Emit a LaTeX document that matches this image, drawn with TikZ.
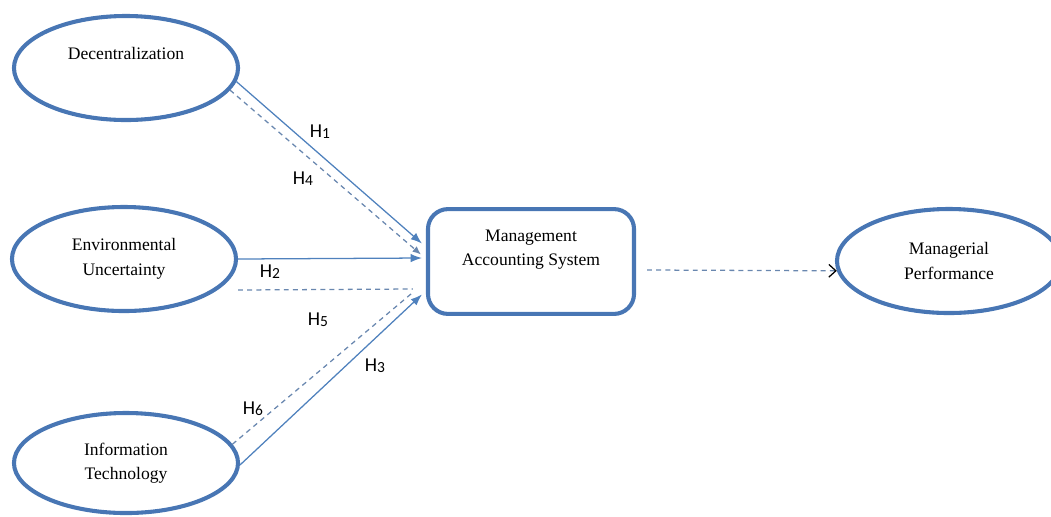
\documentclass[tikz,border=0pt]{standalone}
\usepackage{fontspec}
\setmainfont{Liberation Serif}
\newfontfamily\hfont{Carlito}
\usetikzlibrary{shapes.geometric,arrows.meta,calc}
\definecolor{oval}{RGB}{72,118,180}
\definecolor{link}{RGB}{79,129,189}
\definecolor{dlink}{RGB}{105,135,175}
\newcommand{\hyp}[1]{{\hfont\fontsize{14}{14}\selectfont H\raisebox{-0.1ex}{\fontsize{11}{11}\selectfont #1}}}
\begin{document}
\begin{tikzpicture}[x=0.025cm,y=-0.025cm,font=\fontsize{12.5}{17.5}\selectfont,
  var/.style={ellipse,draw=oval,line width=2.9pt,minimum width=5.6cm,minimum height=2.6cm,align=center},
  sysbox/.style={rectangle,rounded corners=0.5cm,draw=oval,line width=2.9pt,minimum width=5.15cm,minimum height=2.62cm},
  full/.style={draw=link,line width=0.9pt,-{Latex[length=8pt,width=6pt]}},
  dashlink/.style={draw=dlink,line width=0.9pt,dash pattern=on 3.5pt off 3pt}]
\useasboundingbox (0,0) rectangle (1051,516);
% variables
\node[var,label={[yshift=0.375cm]center:Decentralization}] (dec) at (126,68) {};
\node[var] (env) at (124,259) {Environmental\\Uncertainty};
\node[var,minimum height=2.5cm] (inf) at (126,463) {Information\\Technology};
\node[sysbox,label={[yshift=0.3cm,align=center]center:Management\\Accounting System}] (mas) at (531,261.5) {};
\node[var] (mp) at (949,261) {Managerial\\Performance};
% free ends
\coordinate (h5s) at ($(env.east)+(0,31)$);
\coordinate (mass) at ($(mas.east)+(11,8.5)$);
% paths
\draw[full] (dec.-7) -- ($(mas.west)+(-4,-18)$);
\draw[dashlink,-{Latex[length=6pt,width=5pt]}] (dec.-12) -- ($(mas.west)+(-5,-7)$);
\draw[full] (env.east) -- ($(mas.west)+(-4,-3.5)$);
\draw[dashlink] (h5s) -- ($(mas.west)+(-13,27.5)$);
\draw[full] (inf.-1) -- ($(mas.west)+(-4,33)$);
\draw[dashlink] (inf.10) -- ($(mas.west)+(-12,30)$);
\draw[dashlink,-{Straight Barb[black,length=5pt,width=9pt]}] (mass) -- (mp.-175);
% labels
\node (h1) at (320,132) {\hyp1};
\node (h4) at (303,179) {\hyp4};
\node (h2) at (270,272) {\hyp2};
\node (h5) at (318,320) {\hyp5};
\node (h3) at (375,366) {\hyp3};
\node (h6) at (253,409) {\hyp6};
\end{tikzpicture}
\end{document}
